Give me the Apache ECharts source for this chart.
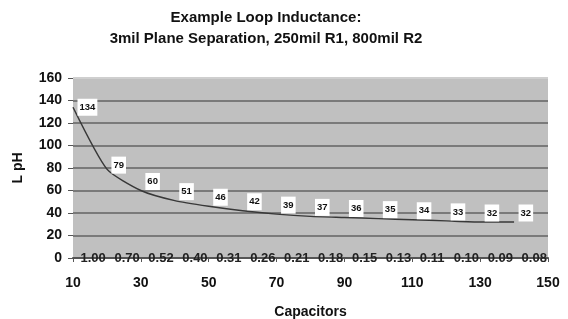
<!DOCTYPE html>
<html>
<head>
<meta charset="utf-8">
<script src="https://cdn.jsdelivr.net/npm/echarts@6/dist/echarts.min.js"></script>
<style>
  html, body { margin: 0; padding: 0; background: #fff; }
  #chart { width: 568px; height: 319px; }
</style>
</head>
<body>
<div id="chart"></div>
<script>
  // capacitor counts along the x axis
  var capacitors = [10, 20, 30, 40, 50, 60, 70, 80, 90, 100, 110, 120, 130, 140];
  // loop inductance in pH
  var inductance = [134, 79, 60, 51, 46, 42, 39, 37, 36, 35, 34, 33, 32, 32];
  // small values printed along the zero line
  var bottomLabels = ['1.00', '0.70', '0.52', '0.40', '0.31', '0.26', '0.21', '0.18', '0.15', '0.13', '0.11', '0.10', '0.09', '0.08'];

  var font = 'Liberation Sans, Arial, sans-serif';
  var gridGray = '#7a7a7a';

  var chartDom = document.getElementById('chart');
  var myChart = echarts.init(chartDom);
  var option;

  option = {
    animation: false,
    title: {
      text: 'Example Loop Inductance:\n3mil Plane Separation, 250mil R1, 800mil R2',
      left: 261,
      top: 2,
      textAlign: 'center',
      textStyle: {
        fontFamily: font,
        fontWeight: 'bold',
        fontSize: 15,
        lineHeight: 21,
        color: '#111'
      }
    },
    grid: {
      left: 73,
      right: 20,
      top: 78,
      bottom: 61,
      outerBoundsMode: 'none',
      containLabel: false,
      show: true,
      backgroundColor: '#c0c0c0',
      borderWidth: 0
    },
    xAxis: {
      type: 'value',
      min: 10,
      max: 150,
      interval: 20,
      name: 'Capacitors',
      nameLocation: 'middle',
      nameGap: 47,
      nameTextStyle: { fontFamily: font, fontWeight: 'bold', fontSize: 14, color: '#111' },
      axisLine: { show: true, lineStyle: { color: '#555', width: 2 } },
      axisTick: { show: true, length: 4, lineStyle: { color: '#555' } },
      axisLabel: { fontFamily: font, fontWeight: 'bold', fontSize: 14, color: '#111', margin: 18 },
      splitLine: { show: false }
    },
    yAxis: {
      type: 'value',
      min: 0,
      max: 160,
      interval: 20,
      name: 'L pH',
      nameLocation: 'middle',
      nameGap: 48,
      nameTextStyle: { fontFamily: font, fontWeight: 'bold', fontSize: 14, color: '#111' },
      axisLine: { show: false },
      axisTick: { show: true, length: 5, lineStyle: { color: '#555' } },
      axisLabel: { fontFamily: font, fontWeight: 'bold', fontSize: 14, color: '#111', margin: 11 },
      splitLine: {
        show: true,
        // top edge of the plot stays light, the rest are dark
        lineStyle: {
          color: [gridGray, gridGray, gridGray, gridGray, gridGray, gridGray, gridGray, gridGray, '#cfcfcf'],
          width: 2
        }
      }
    },
    series: [
      {
        type: 'line',
        data: capacitors.map(function (c, i) { return [c, inductance[i]]; }),
        smooth: 0.2,
        symbol: 'circle',
        symbolSize: 1,
        showSymbol: true,
        itemStyle: { color: 'rgba(0,0,0,0)' },
        lineStyle: { color: '#383838', width: 1.5 },
        label: {
          show: true,
          position: 'right',
          distance: 4,
          fontFamily: font,
          fontWeight: 'bold',
          fontSize: 9.5,
          color: '#111',
          backgroundColor: '#fff',
          padding: [4, 2, 3, 2]
        },
        // labels float a little above the curve, except on the steep start
        labelLayout: function (p) {
          var dy = p.dataIndex === 0 ? 0 : (p.dataIndex === 1 ? -4 : -9);
          return { hideOverlap: false, dy: dy };
        }
      },
      {
        type: 'line',
        data: capacitors.map(function (c) { return [c, 0]; }),
        symbol: 'circle',
        symbolSize: 1,
        showSymbol: true,
        itemStyle: { color: 'rgba(0,0,0,0)' },
        lineStyle: { width: 0, color: 'rgba(0,0,0,0)' },
        label: {
          show: true,
          position: 'right',
          distance: 7,
          fontFamily: font,
          fontWeight: 'bold',
          fontSize: 13,
          color: '#222',
          formatter: function (p) { return bottomLabels[p.dataIndex]; }
        }
      }
    ]
  };

  option && myChart.setOption(option);
</script>
</body>
</html>
